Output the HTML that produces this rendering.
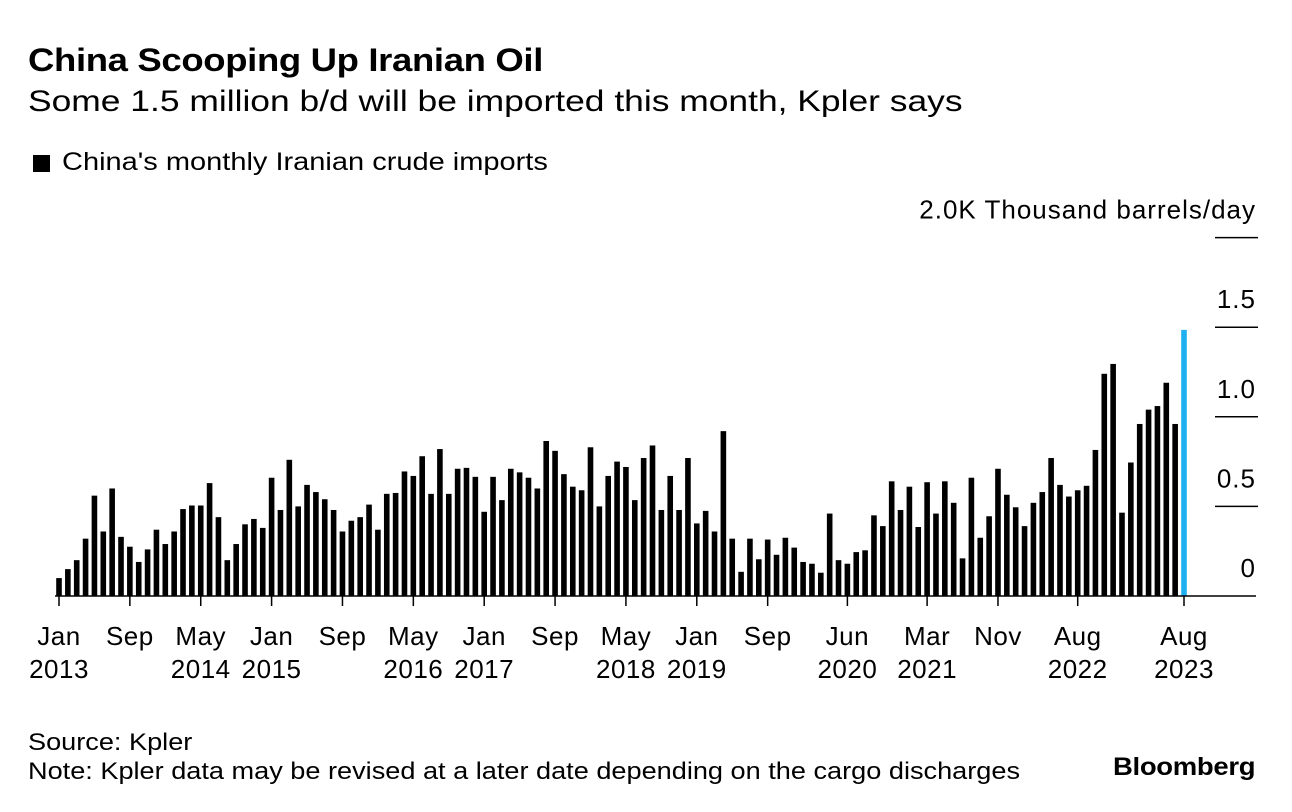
<!DOCTYPE html>
<html><head><meta charset="utf-8"><style>
body{margin:0;background:#fff;font-family:"Liberation Sans",sans-serif;color:#000;}
#wrap{position:relative;width:1292px;height:812px;overflow:hidden;}
.t{position:absolute;white-space:nowrap;transform-origin:left top;}
</style></head><body>
<div id="wrap">
<div class="t" style="left:28px;top:42px;font-size:32px;font-weight:bold;letter-spacing:-0.3px;transform:scaleX(1.14)">China Scooping Up Iranian Oil</div>
<div class="t" style="left:28px;top:85px;font-size:30px;transform:scaleX(1.18)">Some 1.5 million b/d will be imported this month, Kpler says</div>
<div class="t" style="left:33px;top:155px;width:17px;height:17px;background:#000"></div>
<div class="t" style="left:62px;top:148px;font-size:25px;transform:scaleX(1.16)">China's monthly Iranian crude imports</div>
<svg id="chart" width="1292" height="812" style="position:absolute;left:0;top:0"></svg>
<div class="t" style="left:28px;top:729px;font-size:24px;transform:scaleX(1.13)">Source: Kpler</div>
<div class="t" style="left:28px;top:758px;font-size:24px;transform:scaleX(1.13)">Note: Kpler data may be revised at a later date depending on the cargo discharges</div>
<div class="t" style="left:1113px;top:753px;font-size:25px;font-weight:bold;letter-spacing:-0.3px;transform:scaleX(1.1)">Bloomberg</div>
</div>
<script>
const values=[0.10,0.15,0.20,0.32,0.56,0.36,0.60,0.33,0.275,0.19,0.26,0.37,0.29,0.36,0.485,0.505,0.505,0.63,0.44,0.20,0.29,0.40,0.43,0.38,0.66,0.48,0.76,0.50,0.62,0.58,0.54,0.48,0.36,0.42,0.44,0.51,0.37,0.57,0.575,0.695,0.67,0.78,0.57,0.82,0.57,0.71,0.715,0.665,0.47,0.665,0.535,0.71,0.69,0.66,0.60,0.865,0.81,0.68,0.61,0.59,0.83,0.50,0.67,0.75,0.72,0.535,0.77,0.84,0.48,0.67,0.48,0.77,0.405,0.475,0.36,0.92,0.32,0.135,0.32,0.205,0.315,0.23,0.325,0.27,0.19,0.18,0.13,0.46,0.20,0.18,0.245,0.255,0.45,0.39,0.64,0.48,0.61,0.385,0.635,0.46,0.64,0.52,0.21,0.66,0.325,0.445,0.71,0.565,0.495,0.39,0.52,0.58,0.77,0.62,0.555,0.59,0.615,0.815,1.24,1.295,0.465,0.745,0.96,1.04,1.06,1.19,0.96,1.485];
const yTicks=[0,0.5,1.0,1.5,2.0];
const yTickLabels=["0","0.5","1.0","1.5","2.0K"];
const xTickIdx=[0,8,16,24,32,40,48,56,64,72,80,89,98,106,115,127];
const xTickTop=["Jan","Sep","May","Jan","Sep","May","Jan","Sep","May","Jan","Sep","Jun","Mar","Nov","Aug","Aug"];
const xTickBottom=["2013","","2014","2015","","2016","2017","","2018","2019","","2020","2021","","2022","2023"];
const svg=document.getElementById('chart');const NS='http://www.w3.org/2000/svg';
const y0=596,pxPerUnit=179.2,x0=59,step=(1184-59)/(values.length-1),bw=5.6;
const Y=v=>y0-v*pxPerUnit, X=i=>x0+i*step;
function mk(t,a){const e=document.createElementNS(NS,t);for(const k in a)e.setAttribute(k,a[k]);svg.appendChild(e);return e;}
yTicks.forEach((v,i)=>{
 if(v>0){const g=mk('line',{x1:1215,x2:1258,y1:Y(v),y2:Y(v),stroke:'#000','stroke-width':1.5});
 
 }
 const lbl=i===yTicks.length-1?yTickLabels[i]+' Thousand barrels/day':yTickLabels[i];
 const t=mk('text',{x:1256,y:Y(v)-19,'text-anchor':'end','font-size':26,'letter-spacing':'1','font-family':'Liberation Sans, sans-serif'});
 t.textContent=lbl;
 
 
});
values.forEach((v,i)=>{
 const last=i===values.length-1;
 const r=mk('rect',{x:X(i)-bw/2,y:Y(v),width:bw,height:v*pxPerUnit,fill:last?'#1fb0f0':'#000'});
 
 
});
const base=mk('line',{x1:55,x2:1256,y1:y0,y2:y0,stroke:'#000','stroke-width':1.5});


xTickIdx.forEach((idx,j)=>{
 const tk=mk('line',{x1:X(idx),x2:X(idx),y1:y0,y2:y0+10,stroke:'#000','stroke-width':1.5});
 
 
 const t=mk('text',{x:X(idx),y:645,'text-anchor':'middle','font-size':26,'letter-spacing':'0.5','font-family':'Liberation Sans, sans-serif'});
 t.textContent=xTickTop[j];
 
 
 if(xTickBottom[j]){const b=mk('text',{x:X(idx),y:678,'text-anchor':'middle','font-size':26,'letter-spacing':'0.5','font-family':'Liberation Sans, sans-serif'});
 b.textContent=xTickBottom[j];
 
 }
});
</script>
</body></html>
